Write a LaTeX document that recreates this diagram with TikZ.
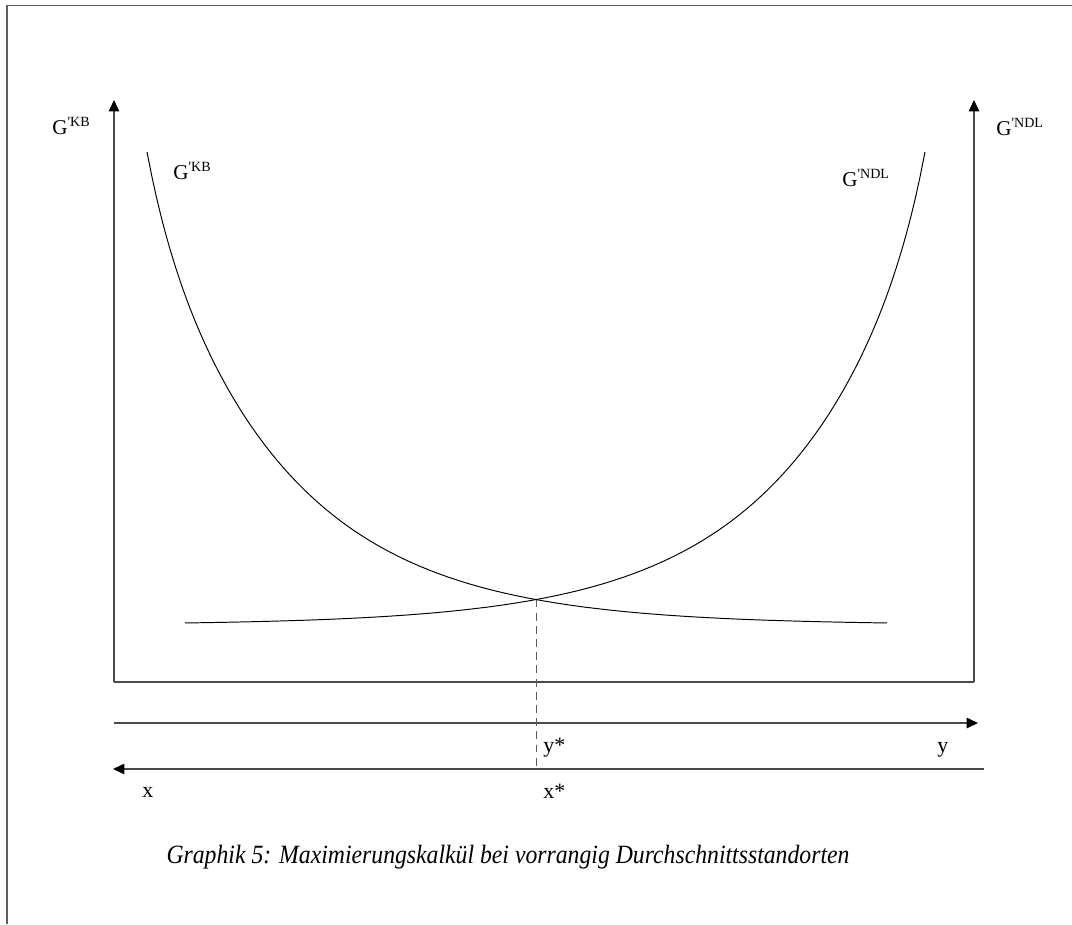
\documentclass[tikz,border=0pt]{standalone}
\usepackage{fontspec}
\setmainfont{Liberation Serif}
\newfontfamily\lblfont{Liberation Serif}
\newfontfamily\capfont{Liberation Serif}[FakeStretch=0.9]
\usetikzlibrary{arrows.meta}
\definecolor{framegray}{HTML}{5E5E5E}
\definecolor{axisgray}{HTML}{4A4A4A}
\definecolor{dashgray}{HTML}{5A5A5A}
\tikzset{
  frame/.style={draw=framegray,line width=1pt},
  axis/.style={draw=axisgray,line width=0.65pt},
  arr/.style={-{Triangle[length=6.5pt,width=6pt,color=black]},draw=axisgray,line width=0.65pt},
  curve/.style={draw=black,line width=0.55pt},
  guide/.style={draw=dashgray,dash pattern=on 4.5pt off 3pt,line width=0.55pt},
  glabel/.style={font=\lblfont\fontsize{12}{14}\selectfont,anchor=base west,inner sep=0pt},
  axlabel/.style={font=\lblfont\fontsize{12.5}{14}\selectfont,anchor=base west,inner sep=0pt},
  caption/.style={font=\capfont\itshape\fontsize{15}{17}\selectfont,anchor=base,inner sep=0pt}
}
\newcommand{\gsup}[2]{#1\textsuperscript{\fontsize{8}{9}\selectfont'#2}}
% falling marginal curve, height in px below the top
\newcommand{\mcurve}[1]{625-473*exp(-0.0072*(#1-147)-0.12*(1-exp(-(#1-147)/30)))}
\begin{document}
\begin{tikzpicture}[x=0.02cm,y=-0.02cm]
\path[use as bounding box] (0,0) rectangle (1072,924);
% frame (cut at right and bottom)
\coordinate (fbl) at (7,924); \coordinate (ftl) at (7,5.5); \coordinate (ftr) at (1072,5.5);
\draw[frame] (fbl)--(ftl)--(ftr);

% axes
\coordinate (o) at (114,682); \coordinate (otop) at (114,100);
\coordinate (r) at (974,682); \coordinate (rtop) at (974,100);
\draw[arr] (o)--(otop); \draw[arr] (r)--(rtop); \draw[axis] (o)--(r);
\coordinate (ya) at (114,723); \coordinate (yb) at (978,723);
\coordinate (xa) at (984,769); \coordinate (xb) at (113,769);
\draw[arr] (ya)--(yb); \draw[arr] (xa)--(xb);

% curves
\draw[curve] plot[domain=147:887,samples=160,smooth] (\x,{\mcurve{\x}});
\draw[curve] plot[domain=147:887,samples=160,smooth] ({1072-\x},{\mcurve{\x}});
\coordinate (s) at (536,{\mcurve{536}}); \coordinate (sfoot) at (536,767);
\draw[guide] (s)--(sfoot);

% labels
\node[glabel] (lkb) at (52,134) {\gsup{G}{KB}};
\node[glabel] (ckb) at (173,179) {\gsup{G}{KB}};
\node[glabel] (lndl) at (996,135) {\gsup{G}{NDL}};
\node[glabel] (cndl) at (842,186) {\gsup{G}{NDL}};
\node[axlabel] (ystar) at (543,752) {y*};
\node[axlabel] (ylab) at (937,752) {y};
\node[axlabel] (xlab) at (142,797) {x};
\node[axlabel] (xstar) at (543,798) {x*};
\node[caption] (cap) at (508,863) {Graphik 5: Maximierungskalkül bei vorrangig Durchschnittsstandorten};
\end{tikzpicture}
\end{document}
